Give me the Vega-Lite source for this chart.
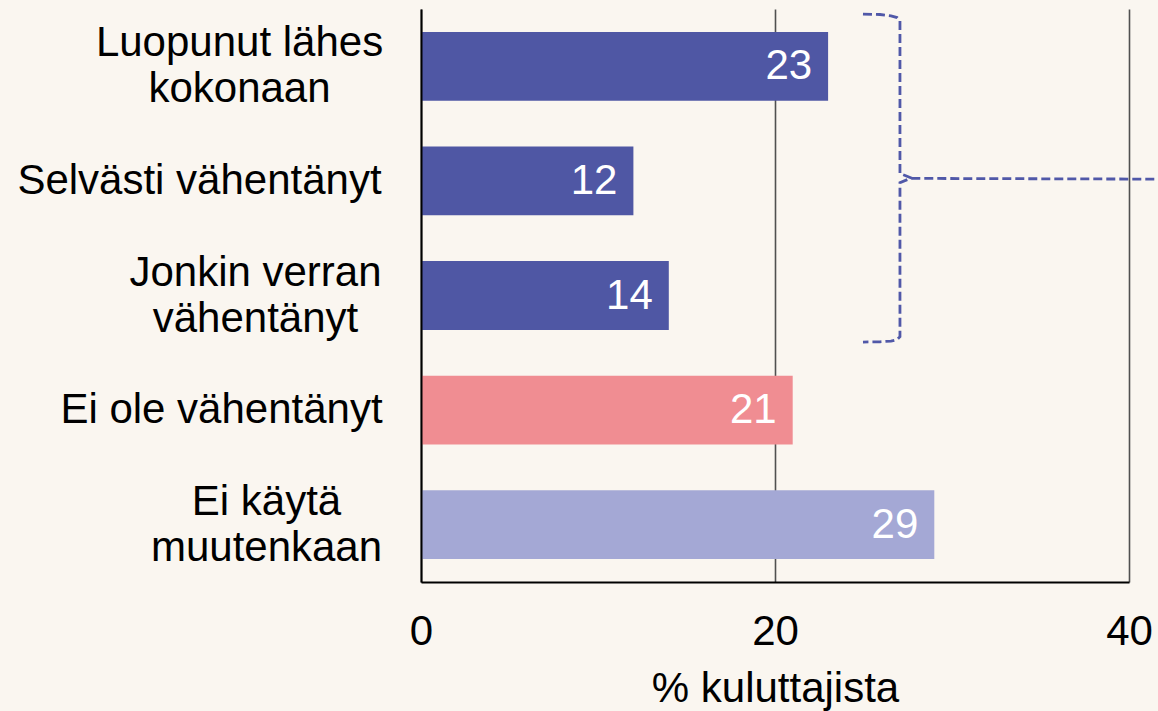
{
  "$schema": "https://vega.github.io/schema/vega-lite/v6.json",
  "width": 708,
  "height": 573,
  "autosize": "none",
  "padding": {"left": 421, "top": 9, "right": 29, "bottom": 129},
  "background": "#faf6f0",
  "config": {"view": {"stroke": null}, "font": "Liberation Sans"},
  "layer": [
    {
      "data": {
        "values": [
          {"cat": "Luopunut lähes|kokonaan", "v": 23, "grp": "a"},
          {"cat": "Selvästi vähentänyt", "v": 12, "grp": "a"},
          {"cat": "Jonkin verran|vähentänyt", "v": 14, "grp": "a"},
          {"cat": "Ei ole vähentänyt", "v": 21, "grp": "b"},
          {"cat": "Ei käytä|muutenkaan", "v": 29, "grp": "c"}
        ]
      },
      "encoding": {
        "y": {
          "field": "cat", "type": "nominal", "sort": null,
          "scale": {"paddingInner": 0.4, "paddingOuter": 0.2},
          "axis": {
            "title": null, "ticks": false, "domainColor": "#000000", "domainWidth": 2,
            "labelExpr": "split(datum.label, '|')",
            "labelFontSize": 42, "labelLineHeight": 46, "labelColor": "#000000",
            "labelLimit": 600, "labelAlign": "center", "labelBaseline": "middle",
            "labelOffset": {
              "condition": {"test": "indexof(datum.value, '|') >= 0", "value": -23},
              "value": 0
            },
            "labelPadding": {
              "condition": [
                {"test": "datum.value === 'Selvästi vähentänyt'", "value": 222},
                {"test": "datum.value === 'Jonkin verran|vähentänyt'", "value": 166},
                {"test": "datum.value === 'Ei ole vähentänyt'", "value": 200},
                {"test": "datum.value === 'Ei käytä|muutenkaan'", "value": 155}
              ],
              "value": 182
            },
            "zindex": 1
          }
        },
        "x": {
          "field": "v", "type": "quantitative",
          "scale": {"domain": [0, 40], "nice": false},
          "axis": {
            "values": [0, 20, 40], "title": "% kuluttajista",
            "titleFontSize": 42, "titleFontWeight": "normal", "titleColor": "#000000", "titlePadding": 16,
            "labelFontSize": 42, "labelColor": "#000000", "labelPadding": 29, "labelFlush": false,
            "ticks": false, "tickSize": 0,
            "domainColor": "#000000", "domainWidth": 2,
            "grid": true, "gridColor": "#505050", "gridWidth": 1.6
          }
        }
      },
      "layer": [
        {
          "mark": {"type": "bar"},
          "encoding": {
            "color": {
              "field": "grp", "type": "nominal",
              "scale": {"domain": ["a", "b", "c"], "range": ["#4f57a4", "#f08d92", "#a4a8d5"]},
              "legend": null
            }
          }
        },
        {
          "mark": {"type": "text", "align": "right", "baseline": "middle", "dx": -16, "fontSize": 42, "color": "#ffffff"},
          "encoding": {
            "text": {"field": "v", "type": "quantitative"}
          }
        }
      ]
    },
    {
      "data": {
        "values": [
          {"seg": "b", "i": 0, "x": 24.97, "y": 0.544},
          {"seg": "b", "i": 1, "x": 25.93, "y": 0.548},
          {"seg": "b", "i": 2, "x": 26.55, "y": 0.56},
          {"seg": "b", "i": 3, "x": 26.9, "y": 0.575},
          {"seg": "b", "i": 4, "x": 27.06, "y": 0.6},
          {"seg": "b", "i": 5, "x": 27.06, "y": 1.935},
          {"seg": "b", "i": 6, "x": 27.7, "y": 1.975},
          {"seg": "b", "i": 7, "x": 27.06, "y": 2.015},
          {"seg": "b", "i": 8, "x": 27.06, "y": 3.36},
          {"seg": "b", "i": 9, "x": 26.9, "y": 3.385},
          {"seg": "b", "i": 10, "x": 26.55, "y": 3.398},
          {"seg": "b", "i": 11, "x": 25.93, "y": 3.404},
          {"seg": "b", "i": 12, "x": 24.97, "y": 3.406},
          {"seg": "a", "i": 0, "x": 27.7, "y": 1.978},
          {"seg": "a", "i": 1, "x": 42.5, "y": 1.985}
        ]
      },
      "mark": {"type": "line", "strokeDash": [9, 4], "strokeWidth": 2.8, "color": "#5058a8"},
      "encoding": {
        "x": {"field": "x", "type": "quantitative"},
        "y": {"field": "y", "type": "quantitative", "scale": {"domain": [0.5, 5.5], "reverse": true, "nice": false, "zero": false}, "axis": null},
        "detail": {"field": "seg"},
        "order": {"field": "i", "type": "quantitative"}
      }
    }
  ],
  "resolve": {"scale": {"y": "independent"}}
}
